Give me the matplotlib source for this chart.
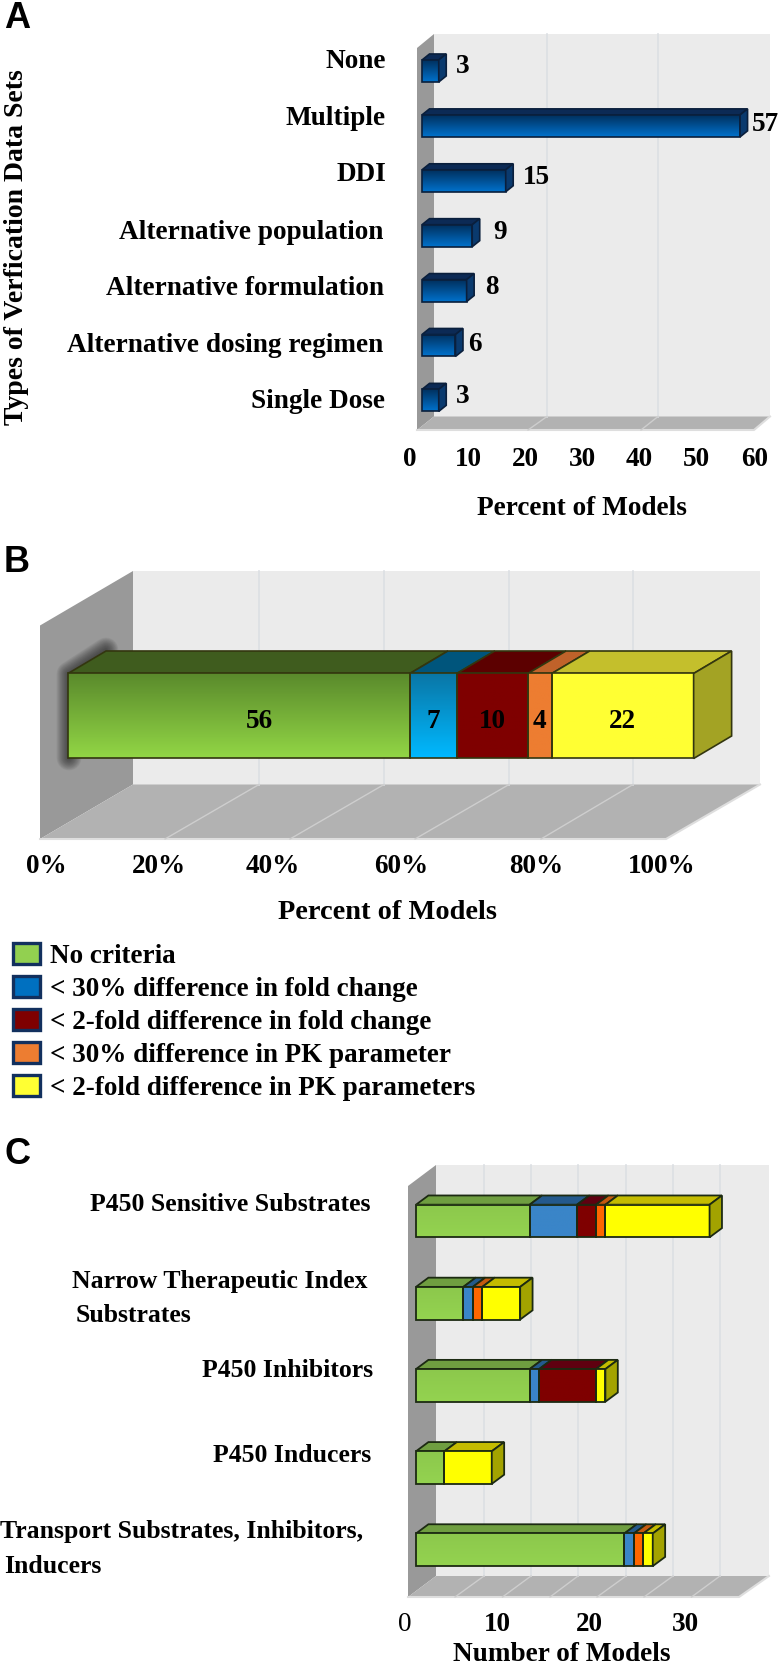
import matplotlib
matplotlib.use("Agg")
import matplotlib.pyplot as plt
import numpy as np
from matplotlib.colors import LinearSegmentedColormap
from matplotlib.patches import Patch

plt.rcParams['font.family'] = ['Liberation Serif', 'DejaVu Serif']
plt.rcParams['font.weight'] = 'bold'

W, H = 780, 1667
FS = 18.6
FS_A = 19.6
FS_C = 18.55

# panel A
a_categories = ["None", "Multiple", "DDI", "Alternative population",
                "Alternative formulation", "Alternative dosing regimen", "Single Dose"]
a_values = [3, 57, 15, 9, 8, 6, 3]
a_ticks = [0, 10, 20, 30, 40, 50, 60]

# panel B, widths, labels as printed on it
b_widths = [54.7, 7.5, 11.4, 3.8, 22.7]
b_labels = ["56", "7", "10", "4", "22"]
b_ticks = ["0%", "20%", "40%", "60%", "80%", "100%"]
legend_labels = ["No criteria", "< 30% difference in fold change",
                 "< 2-fold difference in fold change",
                 "< 30% difference in PK parameter",
                 "< 2-fold difference in PK parameters"]

# panel C
c_no_criteria = [12, 5, 12, 3, 22]
c_fold_30 = [5, 1, 1, 0, 1]
c_fold_2 = [2, 0, 6, 0, 0]
c_pk_30 = [1, 1, 0, 0, 1]
c_pk_2 = [11, 4, 1, 5, 1]
c_ticks = ["0", "10", "20", "30"]

edge_b = "#33360f"
edge_c = "#1c2a12"
b_front = [("#5a8a2c", "#92d645"), ("#0a76a6", "#00b9ff"), ("#7f0000", "#7f0000"),
           ("#ed7d31", "#ed7d31"), ("#ffff33", "#ffff33")]
b_top = ["#3f5c1e", "#00557c", "#5c0000", "#c0622a", "#c4bf2c"]
c_front = [("#8cc84c", "#94d350"), ("#3a85c8", "#3a85c8"), ("#7f0000", "#7f0000"),
           ("#ff6600", "#ff6600"), ("#ffff00", "#ffff00")]
c_top = ["#6f9e40", "#24598c", "#5f0010", "#c45a10", "#c4bc00"]


def panel_axes(fig, x0, sx, y0, dy, z=3):
    # whole figure axes, value 0 at pixel x0, row 0 at pixel y0
    ax = fig.add_axes([0, 0, 1, 1], zorder=z)
    ax.set_xlim(-x0 / sx, (W - x0) / sx)
    ax.set_ylim((H - y0) / dy, -y0 / dy)
    ax.axis("off")
    return ax


def box_segment(ax, row, left, w, h, ddx, ddy, cols, top, edge, lw):
    lims = ax.get_xlim(), ax.get_ylim()
    grad = np.linspace(0, 1, 64)[:, None]
    cmap = LinearSegmentedColormap.from_list("g", cols)
    ax.fill([left, left + w, left + w + ddx, left + ddx],
            [row - h / 2, row - h / 2, row - h / 2 - ddy, row - h / 2 - ddy],
            color=top, ec=edge, lw=lw)
    ax.imshow(grad, extent=[left, left + w, row + h / 2, row - h / 2], cmap=cmap,
              aspect="auto", origin="upper", zorder=2)
    ax.barh(row, w, left=left, height=h, fill=False, edgecolor=edge, lw=lw, zorder=3)
    ax.set_xlim(lims[0])
    ax.set_ylim(lims[1])


def box_side(ax, row, right, h, ddx, ddy, color, edge, lw):
    ax.fill([right, right + ddx, right + ddx, right],
            [row - h / 2, row - h / 2 - ddy, row + h / 2 - ddy, row + h / 2],
            color=color, ec=edge, lw=lw, zorder=3)


def room(pg, bx0, bx1, by0, by1, fx0, fy0, fy1, fx1, back_grid, floor_grid, wall="#999999"):
    pg.fill([bx0, bx1, bx1, bx0], [by0, by0, by1, by1], color="#ebebeb", lw=0)
    pg.fill([fx0, bx0, bx0, fx0], [fy0, by0, by1, fy1], color=wall, lw=0)
    pg.fill([fx0, bx0, bx1, fx1], [fy1, by1, by1, fy1], color="#b2b2b2", lw=0)
    pg.plot([fx0, fx1, bx1], [fy1, fy1, by1], color="#dedede", lw=1.5)
    for bx, fx in zip(back_grid, floor_grid):
        pg.plot([bx, bx], [by0, by1], color="#dcdfe3", lw=1.2)
        pg.plot([fx, bx], [fy1, by1], color="#cecece", lw=1.0)


def tick_row(fig, ytop, xs, labels, size=FS + 1):
    t = fig.add_axes([0, 1 - ytop / H, 1, 1 / H], zorder=1)
    t.set_xlim(0, W)
    t.patch.set_alpha(0)
    for s in t.spines.values():
        s.set_visible(False)
    t.set_yticks([])
    t.set_xticks(xs, labels)
    t.tick_params(axis="x", length=0, pad=0, labelsize=size)
    return t


fig = plt.figure(figsize=(W / 100, H / 100), dpi=100, facecolor="white")
pg = fig.add_axes([0, 0, 1, 1], zorder=0)
pg.set_xlim(0, W)
pg.set_ylim(H, 0)
pg.axis("off")

# --- A ---
room(pg, 434, 770, 34, 416.5, 417, 48, 430, 754, [547, 658], [528, 641])
ax_a = panel_axes(fig, 422, 5.58, 71, 54.9)
for i, v in enumerate(a_values):
    box_segment(ax_a, i, 0, v, 0.40, 7.5 / 5.58, 0.11,
                ("#00305f", "#0072cc"), "#0c2a55", "#0a1f3c", 1.2)
    box_side(ax_a, i, v, 0.40, 7.5 / 5.58, 0.11, "#0a3a6e", "#0a1f3c", 1.2)

a_label_pos = [(386, 61), (386, 118.5), (386, 174), (383.5, 232), (383.5, 288), (383, 345), (385, 401)]
for name, (x, y) in zip(a_categories, a_label_pos):
    pg.text(x, y, name, ha="right", va="center", fontsize=FS_A)
a_value_pos = [(463, 66), (765, 124), (536, 177), (500, 232), (491.5, 287), (475, 344), (463, 396.5)]
for v, (x, y) in zip(a_values, a_value_pos):
    pg.text(x, y, str(v), ha="center", va="center", fontsize=FS + 1)
tick_row(fig, 447, [410, 468, 525, 582, 639, 696, 755], a_ticks)
pg.text(582, 508, "Percent of Models", ha="center", va="center", fontsize=FS_A)
pg.text(17, 247, "Types of Verfication Data Sets", rotation=90, ha="center", va="center", fontsize=20)

# --- B ---
room(pg, 133, 760, 571, 784.5, 40, 625.5, 839, 666,
     [259, 384, 509, 633], [165, 290, 415, 541])
# soft shadow of the bar on the side wall
for lw in np.arange(18, 1, -1):
    pg.plot([69, 69, 106], [758, 674, 650], color="#222222", alpha=0.05, lw=lw,
            solid_capstyle="round", solid_joinstyle="round")
ax_b = panel_axes(fig, 68, 6.25, 716, 85)
left = 0
for w, lab, cols, top in zip(b_widths, b_labels, b_front, b_top):
    box_segment(ax_b, 0, left, w, 1.0, 38 / 6.25, 22.5 / 85, cols, top, edge_b, 1.2)
    shift = 3.2 if lab == "56" else 0
    ax_b.text(left + w / 2 + shift, 0.07, lab, ha="center", va="center", fontsize=FS + 1, zorder=5)
    left += w
box_side(ax_b, 0, left, 1.0, 38 / 6.25, 22.5 / 85, "#a3a324", edge_b, 1.2)
tick_row(fig, 854, [46, 159, 273, 401, 536, 662], b_ticks)
pg.text(388, 912, "Percent of Models", ha="center", va="center", fontsize=20.4)

swatches = ["#92d050", "#0070c0", "#7f0000", "#ed7d31", "#ffff33"]
handles = [Patch(facecolor=c, edgecolor="#12305e", lw=2.4) for c in swatches]
fig.legend(handles, legend_labels, loc="upper left", bbox_to_anchor=(13 / W, 1 - 943 / H),
           frameon=False, fontsize=19.5, handlelength=0.98, handleheight=0.82,
           handletextpad=0.38, labelspacing=0.26, borderpad=0, borderaxespad=0)

# --- C ---
room(pg, 436, 769, 1165, 1576, 408, 1186, 1597, 739,
     [484, 531, 578, 626, 673, 720], [455, 502.5, 550, 597, 644, 691.5])
ax_c = panel_axes(fig, 416, 9.47, 1221, 82.2)
stack = np.array([c_no_criteria, c_fold_30, c_fold_2, c_pk_30, c_pk_2])
for i in range(stack.shape[1]):
    left = 0
    for j in range(stack.shape[0]):
        w = stack[j, i]
        if w == 0:
            continue
        box_segment(ax_c, i, left, w, 0.397, 12.4 / 9.47, 0.112, c_front[j], c_top[j], edge_c, 1.3)
        left += w
    box_side(ax_c, i, left, 0.397, 12.4 / 9.47, 0.112, "#a3a300", edge_c, 1.3)

pg.text(371, 1204, "P450 Sensitive Substrates", ha="right", va="center", fontsize=FS_C)
pg.text(72, 1281, "Narrow Therapeutic Index", ha="left", va="center", fontsize=FS_C)
pg.text(76, 1315, "Substrates", ha="left", va="center", fontsize=FS_C)
pg.text(373, 1370.5, "P450 Inhibitors", ha="right", va="center", fontsize=FS_C)
pg.text(371, 1455, "P450 Inducers", ha="right", va="center", fontsize=FS_C)
pg.text(0, 1531, "Transport Substrates, Inhibitors,", ha="left", va="center", fontsize=FS_C)
pg.text(4, 1566, "Inducers", ha="left", va="center", fontsize=FS_C)
t_c = tick_row(fig, 1612, [404.5, 497.5, 589, 685.5], c_ticks)
t_c.get_xticklabels()[0].set_fontweight("normal")
pg.text(562, 1654, "Number of Models", ha="center", va="center", fontsize=19.6)

# panel letters
for letter, x, y in [("A", 4, 18), ("B", 4, 562), ("C", 5, 1154)]:
    pg.text(x, y, letter, ha="left", va="center", fontsize=26,
            family=["Liberation Sans", "DejaVu Sans"])

fig.savefig("out.png", dpi=100)
